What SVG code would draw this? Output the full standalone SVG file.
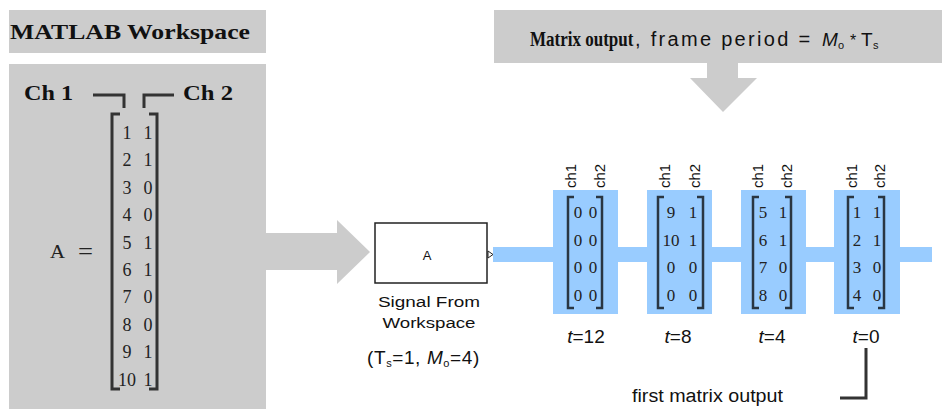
<svg xmlns="http://www.w3.org/2000/svg" width="942" height="409" viewBox="0 0 942 409">
<style>
.gray{fill:#cccccc}
.blue{fill:#99ccff}
.hdr{font-family:"Liberation Serif",serif;font-weight:bold;fill:#111}
.num{font-family:"Liberation Serif",serif;font-size:18px;fill:#222;text-anchor:middle}
.bnum{font-family:"Liberation Serif",serif;font-size:17px;fill:#222;text-anchor:middle}
.cond{font-family:"Liberation Sans",Arial,sans-serif;fill:#111}
.brk{fill:none;stroke:#333;stroke-width:3}
.bbrk{fill:none;stroke:#2a3642;stroke-width:2.5}
.ch{font-family:"Liberation Sans",Arial,sans-serif;font-size:15px;fill:#111}
.tl{font-family:"Liberation Sans",Arial,sans-serif;font-size:19px;fill:#111;text-anchor:middle}
</style>
<rect width="942" height="409" fill="#ffffff"/>

<g id="workspace-title">
<rect class="gray" x="9" y="10" width="257" height="43"/>
<text class="hdr" x="10" y="39" font-size="21" textLength="240" lengthAdjust="spacingAndGlyphs">MATLAB Workspace</text>
</g>

<g id="workspace">
<rect class="gray" x="9" y="64" width="257" height="345"/>
<text class="hdr" x="24" y="100" font-size="20" textLength="49" lengthAdjust="spacingAndGlyphs">Ch 1</text>
<text class="hdr" x="183" y="100" font-size="20" textLength="50" lengthAdjust="spacingAndGlyphs">Ch 2</text>
<path class="brk" d="M93 95 H124 V108"/>
<path class="brk" d="M144 108 V95 H174"/>
<text x="50" y="258" font-family="Liberation Serif,serif" font-size="18" fill="#222" textLength="15" lengthAdjust="spacingAndGlyphs">A</text>
<text x="78" y="259" font-family="Liberation Serif,serif" font-size="24" fill="#222" textLength="15" lengthAdjust="spacingAndGlyphs">=</text>
<path class="brk" d="M120 114 H112 V389 H120"/>
<path class="brk" d="M149 114 H157 V389 H149"/>
<g class="num">
<text x="127" y="139">1</text><text x="148" y="139">1</text>
<text x="127" y="166">2</text><text x="148" y="166">1</text>
<text x="127" y="194">3</text><text x="148" y="194">0</text>
<text x="127" y="221">4</text><text x="148" y="221">0</text>
<text x="127" y="249">5</text><text x="148" y="249">1</text>
<text x="127" y="276">6</text><text x="148" y="276">1</text>
<text x="127" y="303">7</text><text x="148" y="303">0</text>
<text x="127" y="331">8</text><text x="148" y="331">0</text>
<text x="127" y="358">9</text><text x="148" y="358">1</text>
<text x="127" y="386" textLength="18" lengthAdjust="spacingAndGlyphs">10</text><text x="148" y="386">1</text>
</g>
</g>

<g id="matrix-output-title">
<rect class="gray" x="494" y="10" width="448" height="53"/>
<text class="hdr" font-size="20" transform="translate(530 46) scale(0.85 1)">Matrix output</text>
<text y="46" class="cond" font-size="20"><tspan x="635" letter-spacing="2.3">, frame period = </tspan><tspan x="822" font-size="19" font-style="italic">M</tspan><tspan x="838" dy="3" font-size="11">o</tspan><tspan x="850" dy="-3" font-size="16">*</tspan><tspan x="861" font-size="19">T</tspan><tspan x="873" dy="3" font-size="11">s</tspan></text>
</g>

<g id="connectors">
<path class="gray" d="M266 233 H337 V220 L370 252 L337 284 V270 H266 Z"/>
<path class="gray" d="M707 63 H738 V78 H757 L723 112 L690 78 H707 Z"/>
<rect class="blue" x="493" y="247" width="439" height="15"/>
<path d="M840 398 H866 V348" fill="none" stroke="#333" stroke-width="3"/>
</g>

<g id="signal-from-workspace">
<rect x="375" y="223" width="112" height="60" fill="#ffffff" stroke="#222" stroke-width="1.5"/>
<text class="cond" x="427" y="260" font-size="13" text-anchor="middle">A</text>
<path d="M488 251 L493 254.5 L488 258 Z" fill="#ffffff" stroke="#222" stroke-width="1"/>
<text class="cond" x="429" y="307" font-size="14" text-anchor="middle" textLength="102" lengthAdjust="spacingAndGlyphs">Signal From</text>
<text class="cond" x="429" y="328" font-size="14" text-anchor="middle" textLength="93" lengthAdjust="spacingAndGlyphs">Workspace</text>
<text class="cond" x="367" y="364" font-size="19" letter-spacing="0.6">(T<tspan font-size="11" dy="3">s</tspan><tspan dy="-3">=1, </tspan><tspan font-style="italic">M</tspan><tspan font-size="11" dy="3">o</tspan><tspan dy="-3">=4)</tspan></text>
</g>

<g id="frame-t12">
<rect class="blue" x="553" y="190" width="65" height="124"/>
<text class="ch" transform="translate(576 188) rotate(-90)">ch1</text>
<text class="ch" transform="translate(605 188) rotate(-90)">ch2</text>
<path class="bbrk" d="M574 197 H568 V308 H574"/>
<path class="bbrk" d="M596 197 H602 V308 H596"/>
<g class="bnum">
<text x="578" y="218">0</text><text x="593" y="218">0</text>
<text x="578" y="246">0</text><text x="593" y="246">0</text>
<text x="578" y="273">0</text><text x="593" y="273">0</text>
<text x="578" y="301">0</text><text x="593" y="301">0</text>
</g>
<text class="tl" x="586" y="343"><tspan font-style="italic">t</tspan>=12</text>
</g>

<g id="frame-t8">
<rect class="blue" x="647" y="190" width="65" height="124"/>
<text class="ch" transform="translate(670 188) rotate(-90)">ch1</text>
<text class="ch" transform="translate(700 188) rotate(-90)">ch2</text>
<path class="bbrk" d="M664 197 H658 V308 H664"/>
<path class="bbrk" d="M697 197 H703 V308 H697"/>
<g class="bnum">
<text x="671" y="218">9</text><text x="693" y="218">1</text>
<text x="671" y="246">10</text><text x="693" y="246">1</text>
<text x="671" y="273">0</text><text x="693" y="273">0</text>
<text x="671" y="301">0</text><text x="693" y="301">0</text>
</g>
<text class="tl" x="678" y="343"><tspan font-style="italic">t</tspan>=8</text>
</g>

<g id="frame-t4">
<rect class="blue" x="741" y="190" width="65" height="124"/>
<text class="ch" transform="translate(763 188) rotate(-90)">ch1</text>
<text class="ch" transform="translate(792 188) rotate(-90)">ch2</text>
<path class="bbrk" d="M759 197 H753 V308 H759"/>
<path class="bbrk" d="M785 197 H791 V308 H785"/>
<g class="bnum">
<text x="763" y="218">5</text><text x="783" y="218">1</text>
<text x="763" y="246">6</text><text x="783" y="246">1</text>
<text x="763" y="273">7</text><text x="783" y="273">0</text>
<text x="763" y="301">8</text><text x="783" y="301">0</text>
</g>
<text class="tl" x="772" y="343"><tspan font-style="italic">t</tspan>=4</text>
</g>

<g id="frame-t0">
<rect class="blue" x="834" y="190" width="66" height="124"/>
<text class="ch" transform="translate(857 188) rotate(-90)">ch1</text>
<text class="ch" transform="translate(885 188) rotate(-90)">ch2</text>
<path class="bbrk" d="M854 197 H848 V308 H854"/>
<path class="bbrk" d="M878 197 H884 V308 H878"/>
<g class="bnum">
<text x="857" y="218">1</text><text x="877" y="218">1</text>
<text x="857" y="246">2</text><text x="877" y="246">1</text>
<text x="857" y="273">3</text><text x="877" y="273">0</text>
<text x="857" y="301">4</text><text x="877" y="301">0</text>
</g>
<text class="tl" x="866" y="343"><tspan font-style="italic">t</tspan>=0</text>
</g>

<g id="first-output-label">
<text class="cond" x="632" y="402" font-size="18" textLength="151" lengthAdjust="spacingAndGlyphs">first matrix output</text>
</g>
</svg>
